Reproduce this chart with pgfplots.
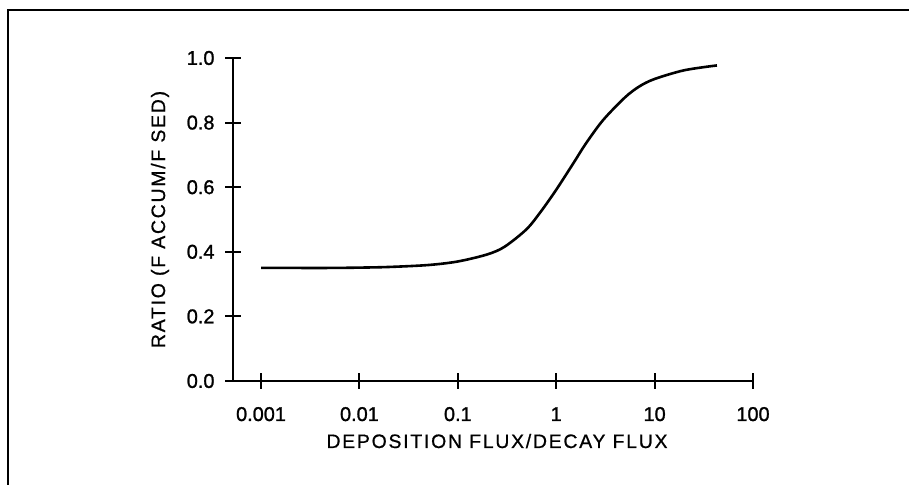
\documentclass[border=0pt]{standalone}
\usepackage{fontspec}
\setmainfont{Liberation Sans}
\newfontfamily\labelfont[LetterSpace=9,FakeBold=0.8]{Liberation Sans}
\newfontfamily\tickfont[FakeBold=1.2]{Liberation Sans}
\usepackage{pgfplots}
\pgfplotsset{compat=1.18}

\begin{document}
\begin{tikzpicture}[x=1bp,y=1bp]
\useasboundingbox (0,0) rectangle (909,485);
% frame of the scanned figure (left and top edges)
\draw[line width=2.5bp] (8,0) -- (8,475) -- (909,475);
\begin{axis}[
    at={(233bp,104bp)}, anchor=south west,
    width=520bp, height=323bp, scale only axis,
    xmode=log, xmin=0.000519, xmax=100, ymin=0, ymax=1,
    axis x line=bottom, axis y line=left,
    axis line style={-, line width=2bp},
    xtick={0.001,0.01,0.1,1,10,100},
    xticklabels={0.001,0.01,0.1,1,10,100},
    ytick={0,0.2,0.4,0.6,0.8,1},
    yticklabels={0.0,0.2,0.4,0.6,0.8,1.0},
    xminorticks=false, yminorticks=false,
    tick align=center, major tick length=16bp,
    tick style={line width=2bp, black},
    xticklabel style={font=\tickfont\fontsize{20}{22}\selectfont, anchor=base, yshift=-32bp},
    yticklabel style={font=\tickfont\fontsize{20}{22}\selectfont, anchor=east, xshift=-7bp},
    xlabel={\labelfont\fontsize{19.5}{21}\selectfont DEPOSITION FLUX/DECAY FLUX},
    ylabel={\labelfont\fontsize{19.5}{21}\selectfont RATIO (F ACCUM/F SED)},
    xlabel style={at={(axis description cs:0.5,0)}, anchor=base, xshift=4bp, yshift=-67bp},
    ylabel style={at={(axis description cs:0,0.5)}, anchor=center, yshift=73bp},
    clip=false,
]
\addplot[line width=2.6bp, smooth, black] coordinates {
(0.001,0.350) (0.002,0.350) (0.005,0.350) (0.01,0.351) (0.02,0.353)
(0.05,0.359) (0.1,0.370) (0.2,0.392) (0.3,0.416) (0.5,0.470)
(0.7,0.525) (1,0.592) (1.5,0.675) (2,0.735) (3,0.808)
(5,0.878) (7,0.912) (10,0.935) (20,0.962) (43,0.977)
};
\end{axis}
\end{tikzpicture}
\end{document}
